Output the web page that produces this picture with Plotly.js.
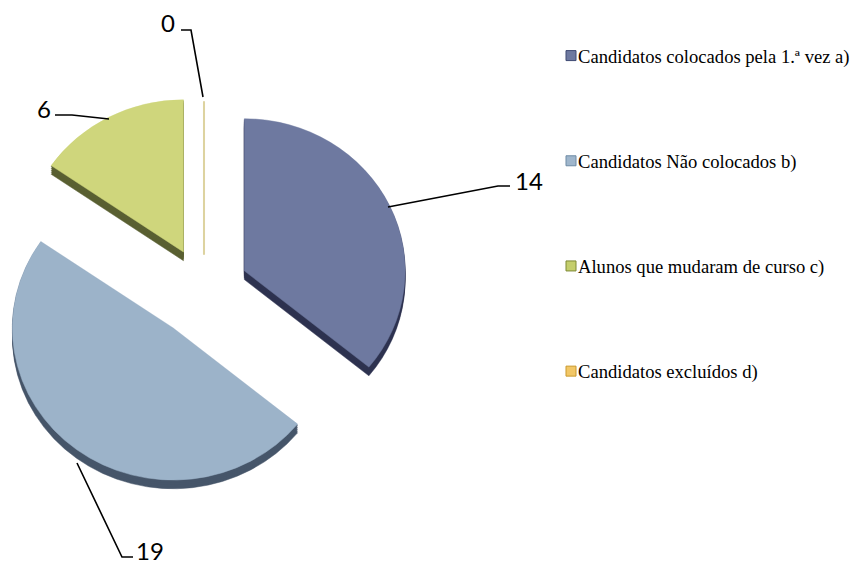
<!DOCTYPE html>
<html>
<head>
<meta charset="utf-8">
<script src="https://cdn.plot.ly/plotly-3.0.1.min.js"></script>
<style>html,body{margin:0;padding:0;background:#fff}#c{width:851px;height:566px}</style>
</head>
<body>
<div id="c"></div>
<script>
const categories = ['Candidatos colocados pela 1.ª vez a)', 'Candidatos Não colocados b)', 'Alunos que mudaram de curso c)', 'Candidatos excluídos d)'];
const values = [14, 19, 6, 0];
const topColors = ['#6E79A0', '#9CB3C9', '#CFD67C', '#DDD3A0'];
const sideColors = ['#2E3350', '#46566A', '#5A6032', '#DDD3A0'];
const legendColors = ['#6E79A0', '#9FB6CC', '#C4CE6C', '#F2C766'];
const legendEdges = ['#3F4A73', '#6F8BA5', '#7E8A35', '#C9992F'];
const pulls = [0.278, 0.32, 0.275, 0.23];

const W = 851, H = 566;
const cx = 210, cy = 288, halfSize = 207;
function pieTrace(offset, colors, widths) {
  return {
    type: 'pie', labels: categories, values: values, sort: false, direction: 'clockwise', rotation: 0,
    pull: pulls, textinfo: 'none', hoverinfo: 'label+value', showlegend: false,
    marker: {colors: colors, line: {color: colors, width: widths}},
    domain: {x: [(cx - halfSize) / W, (cx + halfSize) / W],
             y: [1 - (cy + offset + halfSize) / H, 1 - (cy + offset - halfSize) / H]}
  };
}
const traces = [];
[9, 7, 5, 3, 1].forEach(o => traces.push(pieTrace(o, sideColors, [0.5, 0.5, 0.5, 0])));
traces.push(pieTrace(0, topColors, [0.5, 0.5, 0.5, 2]));
categories.forEach((name, i) => traces.push({
  type: 'scatter', mode: 'markers', x: [null], y: [null], name: name, legendgroup: 'g' + i, showlegend: true,
  marker: {symbol: 'square', size: 10, color: legendColors[i], line: {color: legendEdges[i], width: 1}}
}));

const labelText = ['14', '19', '6', '0'];
const labelPos = [[529, 180], [150, 550], [44, 108], [168, 23]];
const connectors = [
  [[388, 207], [498, 186], [510, 186]],
  [[77, 463], [122, 557], [133, 557]],
  [[109, 119], [72, 115], [55, 115]],
  [[203, 97], [191, 30], [181, 30]]
];
const layout = {
  width: W, height: H, margin: {l: 0, r: 0, t: 0, b: 0, autoexpand: false},
  paper_bgcolor: '#fff', plot_bgcolor: '#fff', showlegend: true,
  xaxis: {visible: false}, yaxis: {visible: false},
  legend: {x: 538 / W, y: 1 - 37 / H, xanchor: 'left', yanchor: 'top', tracegroupgap: 78,
           font: {family: 'Liberation Serif', size: 18.6, color: '#000'}, bgcolor: 'rgba(0,0,0,0)'},
  annotations: labelText.map((t, i) => ({
    text: t, showarrow: false, xref: 'paper', yref: 'paper', xanchor: 'center', yanchor: 'middle',
    x: labelPos[i][0] / W, y: 1 - labelPos[i][1] / H, font: {family: 'Lato', size: 24, color: '#000'}
  })),
  shapes: connectors.map(c => ({
    type: 'path', xref: 'paper', yref: 'paper', line: {color: '#000', width: 1.6},
    path: c.map((p, j) => (j ? 'L' : 'M') + (p[0] / W) + ',' + (1 - p[1] / H)).join(' ')
  }))
};
Plotly.newPlot('c', traces, layout, {displayModeBar: false}).then(() => {
  document.querySelectorAll('.legend .legendsymbols').forEach(el => el.setAttribute('transform', 'translate(13,0)'));
  const pl = document.querySelector('.pielayer');
  if (pl) pl.setAttribute('transform', 'translate(204,289) scale(1.025,0.97) translate(-210,-288)');
});
</script>
</body>
</html>
